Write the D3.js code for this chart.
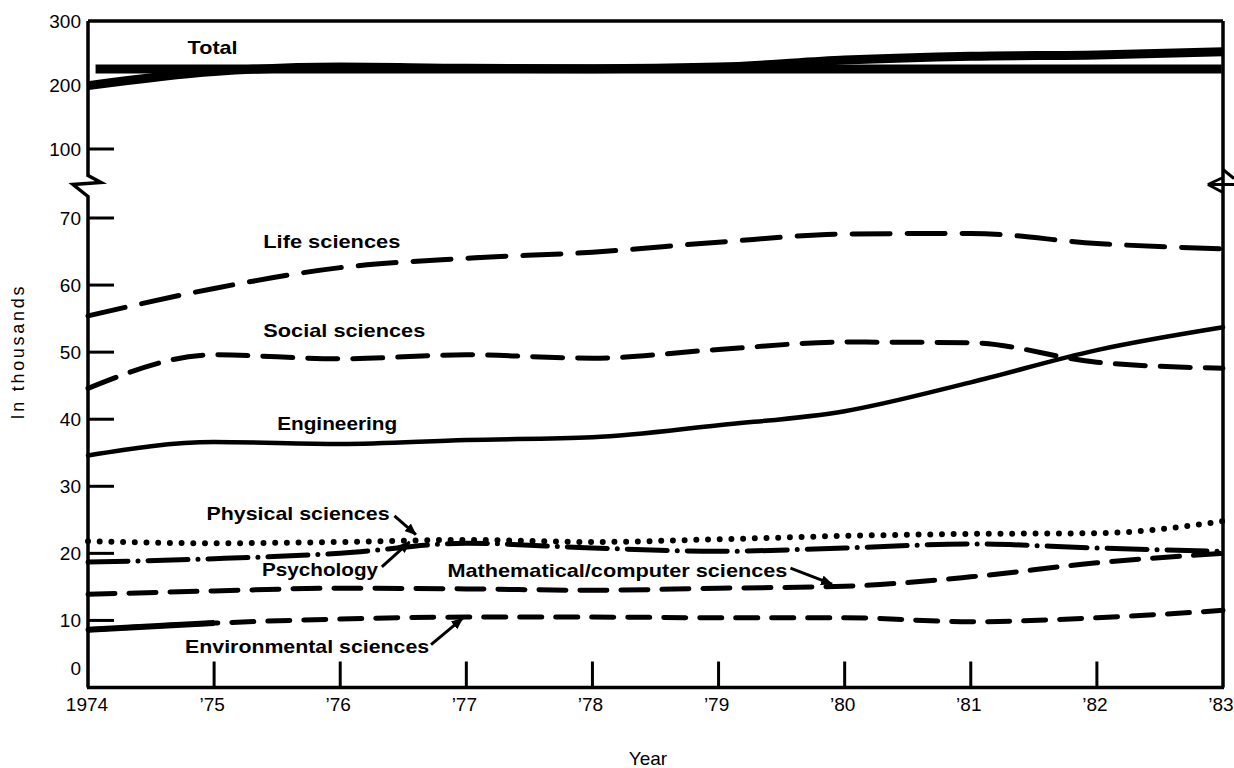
<!DOCTYPE html>
<html>
<head>
<meta charset="utf-8">
<script src="https://cdn.jsdelivr.net/npm/d3@7/dist/d3.min.js"></script>
<style>
  html, body { margin: 0; padding: 0; background: #fff; }
  svg { display: block; font-family: "Liberation Sans", Arial, Helvetica, sans-serif; }
</style>
</head>
<body>
<svg id="chart" width="1234" height="768"></svg>
<script>
// ---------------- DATA ----------------
const years = [1974, 1975, 1976, 1977, 1978, 1979, 1980, 1981, 1982, 1983];
const xTickLabels = ["1974", "’75", "’76", "’77", "’78", "’79", "’80", "’81", "’82", "’83"];

const totalValues   = [199, 221, 228, 226, 225.5, 228, 239, 245, 247, 252];
const totalLevel    = 225;   // flat reference bar drawn behind the Total curve

const lifeValues    = [55.4, 59.5, 62.6, 64.0, 64.9, 66.4, 67.6, 67.7, 66.2, 65.4];
const socialValues  = [44.6, 49.6, 49.0, 49.6, 49.1, 50.4, 51.5, 51.4, 48.5, 47.6];
const engValues     = [34.6, 36.6, 36.3, 36.9, 37.3, 39.1, 41.2, 45.5, 50.3, 53.7];
const physValues    = [21.8, 21.5, 21.7, 22.0, 21.7, 22.1, 22.6, 22.9, 23.0, 24.8];
const psychValues   = [18.7, 19.2, 20.0, 21.5, 20.8, 20.3, 20.8, 21.4, 20.8, 20.3];
const mathValues    = [13.9, 14.4, 14.8, 14.7, 14.5, 14.8, 15.1, 16.5, 18.6, 20.0];
const envValues     = [8.6, 9.6, 10.2, 10.5, 10.5, 10.4, 10.4, 9.8, 10.4, 11.5];

const lowerTicks = [10, 20, 30, 40, 50, 60, 70];
const lowerLabels = [0, 10, 20, 30, 40, 50, 60, 70];
const upperTicks = [100];
const upperLabels = [100, 200, 300];

// Series labels: [text, year, value, scale, width]
const seriesLabels = [
  ["Total",                          1974.79, 248.4, "upper", 50],
  ["Life sciences",                  1975.39, 65.6,  "lower", 137],
  ["Social sciences",                1975.39, 52.2,  "lower", 162],
  ["Engineering",                    1975.50, 38.4,  "lower", 120],
  ["Physical sciences",              1974.94, 25.0,  "lower", 183],
  ["Psychology",                     1975.38, 16.6,  "lower", 116],
  ["Mathematical/computer sciences", 1976.85, 16.5,  "lower", 340],
  ["Environmental sciences",         1974.77, 5.1,   "lower", 244]
];
// Arrows: [tailYear, tailValue, tipYear, tipValue]
const arrows = [
  [1976.43, 25.6, 1976.60, 22.8],
  [1976.33, 18.0, 1976.55, 21.7],
  [1979.57, 17.8, 1979.90, 15.4],
  [1976.72, 6.4,  1976.97, 10.3]
];

// ---------------- SCALES ----------------
const svg = d3.select("#chart");
const x = d3.scaleLinear().domain([1974, 1983]).range([88, 1223]);
const yLow = d3.scaleLinear().domain([0, 70]).range([687.5, 218]);
const yUp = d3.scaleLinear().domain([100, 300]).range([149, 21]);
const yOf = s => (s === "upper" ? yUp : yLow);

const ink = "#000";

// ---------------- FRAME / AXES ----------------
const pL = x(1974), pR = x(1983), pT = yUp(300), pB = yLow(0);
const breakY = (yLow(70) + yUp(100)) / 2;

svg.append("line").attr("x1", pL).attr("x2", pR).attr("y1", pT).attr("y2", pT)
  .attr("stroke", ink).attr("stroke-width", 3.5);
svg.append("line").attr("x1", pL - 1).attr("x2", pR + 1).attr("y1", pB).attr("y2", pB)
  .attr("stroke", ink).attr("stroke-width", 3.5);

// left axis with break
svg.append("path")
  .attr("d", d3.line()([
    [pL, pT], [pL, breakY - 8], [pL + 13, breakY - 1], [pL - 15, breakY + 1], [pL, breakY + 13], [pL, pB]
  ]))
  .attr("fill", "none").attr("stroke", ink).attr("stroke-width", 3.5).attr("stroke-linejoin", "miter");

// right axis with break
svg.append("path")
  .attr("d", d3.line()([[pR, pT], [pR, pB]]))
  .attr("fill", "none").attr("stroke", ink).attr("stroke-width", 3.5);
svg.append("path")
  .attr("d", d3.line()([[pR, breakY - 14], [pR + 11, breakY - 5]]))
  .attr("fill", "none").attr("stroke", ink).attr("stroke-width", 3);
svg.append("path")
  .attr("d", d3.line()([[pR, breakY - 6], [pR - 15, breakY + 1], [pR + 11, breakY + 1]]))
  .attr("fill", "none").attr("stroke", ink).attr("stroke-width", 3);
svg.append("path")
  .attr("d", d3.line()([[pR - 15, breakY + 1], [pR, breakY + 9]]))
  .attr("fill", "none").attr("stroke", ink).attr("stroke-width", 3);

// y ticks
const yTickLen = 26;
lowerTicks.forEach(v => {
  svg.append("line").attr("x1", pL).attr("x2", pL + yTickLen)
    .attr("y1", yLow(v)).attr("y2", yLow(v)).attr("stroke", ink).attr("stroke-width", 3);
});
upperTicks.forEach(v => {
  svg.append("line").attr("x1", pL).attr("x2", pL + yTickLen)
    .attr("y1", yUp(v)).attr("y2", yUp(v)).attr("stroke", ink).attr("stroke-width", 3);
});
lowerLabels.forEach(v => {
  svg.append("text").attr("x", pL - 7).attr("y", yLow(v) - (v === 0 ? 19 : 0))
    .attr("dy", "0.36em").attr("text-anchor", "end")
    .attr("font-size", 19).attr("fill", ink).text(v);
});
upperLabels.forEach(v => {
  svg.append("text").attr("x", pL - 7).attr("y", yUp(v))
    .attr("dy", "0.36em").attr("text-anchor", "end")
    .attr("font-size", 19).attr("fill", ink).text(v);
});

// x ticks
years.slice(1, -1).forEach(yr => {
  svg.append("line").attr("x1", x(yr)).attr("x2", x(yr))
    .attr("y1", pB).attr("y2", pB - 26).attr("stroke", ink).attr("stroke-width", 3);
});
years.forEach((yr, i) => {
  svg.append("text").attr("x", x(yr) - (i === 0 ? 1 : 2)).attr("y", 711)
    .attr("text-anchor", "middle").attr("font-size", 19).attr("fill", ink)
    .text(xTickLabels[i]);
});

// axis titles
svg.append("text").attr("x", 648).attr("y", 765).attr("text-anchor", "middle")
  .attr("font-size", 19).attr("fill", ink).text("Year");
svg.append("text").attr("transform", "translate(24,353) rotate(-90)")
  .attr("text-anchor", "middle").attr("font-size", 18).attr("fill", ink)
  .attr("textLength", 133).attr("lengthAdjust", "spacing").text("In thousands");

// ---------------- SERIES ----------------
const lineGen = (scale) => d3.line()
  .x((d, i) => x(years[i]))
  .y(d => scale(d))
  .curve(d3.curveMonotoneX);

svg.append("line")
  .attr("x1", x(1974.06)).attr("x2", x(1982.99))
  .attr("y1", yUp(totalLevel)).attr("y2", yUp(totalLevel))
  .attr("stroke", ink).attr("stroke-width", 9);
svg.append("path").datum(totalValues).attr("d", lineGen(yUp))
  .attr("fill", "none").attr("stroke", ink).attr("stroke-width", 9);

const series = [
  { v: lifeValues,   w: 5,   dash: "38,17" },
  { v: socialValues, w: 5,   dash: "30,15" },
  { v: engValues,    w: 4.5, dash: null },
  { v: physValues,   w: 6,   dash: "0,11.7" },
  { v: psychValues,  w: 5,   dash: "40,10,0,10" },
  { v: mathValues,   w: 5,   dash: "27,14" },
  { v: envValues,    w: 5,   dash: "22,14" }
];
series.forEach(s => {
  const p = svg.append("path").datum(s.v).attr("d", lineGen(yLow))
    .attr("fill", "none").attr("stroke", ink).attr("stroke-width", s.w)
    .attr("stroke-linecap", "round");
  if (s.dash) p.attr("stroke-dasharray", s.dash);
});
svg.append("path").datum(envValues.slice(0, 2))
  .attr("d", d3.line().x((d, i) => x(years[i])).y(d => yLow(d)))
  .attr("fill", "none").attr("stroke", ink).attr("stroke-width", 6);

// ---------------- LABELS ----------------
seriesLabels.forEach(([t, yr, v, sc, w]) => {
  svg.append("text").attr("x", x(yr)).attr("y", yOf(sc)(v))
    .attr("font-size", 19).attr("font-weight", "bold").attr("fill", ink)
    .attr("textLength", w).attr("lengthAdjust", "spacingAndGlyphs").text(t);
});

const defs = svg.append("defs");
defs.append("marker").attr("id", "ah").attr("viewBox", "0 0 12 10")
  .attr("refX", 11).attr("refY", 5).attr("markerWidth", 12).attr("markerHeight", 10)
  .attr("markerUnits", "userSpaceOnUse").attr("orient", "auto")
  .append("path").attr("d", "M0,0 L12,5 L0,10 Z").attr("fill", ink);
arrows.forEach(([ty, tv, hy, hv]) => {
  svg.append("line").attr("x1", x(ty)).attr("y1", yLow(tv))
    .attr("x2", x(hy)).attr("y2", yLow(hv))
    .attr("stroke", ink).attr("stroke-width", 3).attr("marker-end", "url(#ah)");
});
</script>
</body>
</html>
